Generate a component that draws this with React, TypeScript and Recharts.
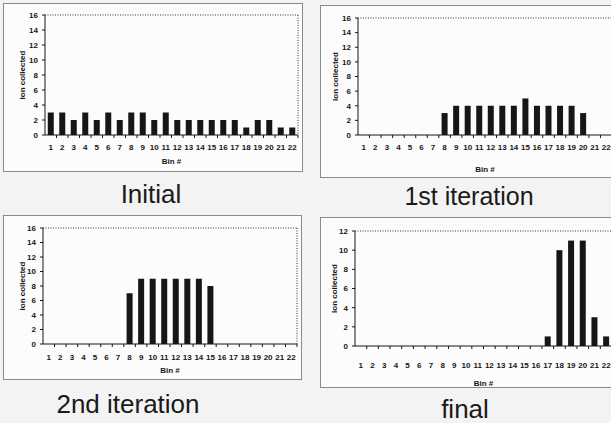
import React from 'react';
import { BarChart, Bar, XAxis, YAxis, CartesianGrid } from 'recharts';

const bins = ['1','2','3','4','5','6','7','8','9','10','11','12','13','14','15','16','17','18','19','20','21','22'];
const initialValues = [3,3,2,3,2,3,2,3,3,2,3,2,2,2,2,2,2,1,2,2,1,1];
const firstIterationValues = [0,0,0,0,0,0,0,3,4,4,4,4,4,4,5,4,4,4,4,3,0,0];
const secondIterationValues = [0,0,0,0,0,0,0,7,9,9,9,9,9,9,8,0,0,0,0,0,0,0];
const finalValues = [0,0,0,0,0,0,0,0,0,0,0,0,0,0,0,0,1,10,11,11,3,1];
const ticks16 = [0,2,4,6,8,10,12,14,16];
const ticks12 = [0,2,4,6,8,10,12];
const titles = ['Initial', '1st iteration', '2nd iteration', 'final'];

const makeRows = (vals: number[]) => bins.map((b, i) => ({ bin: b, v: vals[i] }));

const FONT = 'Arial, "Liberation Sans", Helvetica, sans-serif';
const INK = '#161616';

const XTick = (props: any) => {
  const { x, y, payload, labelDy } = props;
  const off = payload.offset || 0;
  return (
    <g>
      <line x1={x + off} x2={x + off} y1={y} y2={y + 3} stroke={INK} strokeWidth={1} />
      <text x={x} y={y + labelDy + 3} textAnchor="middle" fontFamily={FONT} fontSize={8} fontWeight="bold" fill={INK}>
        {payload.value}
      </text>
    </g>
  );
};

type PanelProps = {
  box: { left: number; top: number; width: number; height: number };
  vals: number[];
  yMax: number;
  yTicks: number[];
  yAxisW: number;
  mTop: number;
  mRight: number;
  xAxisH: number;
  labelDy: number;
  binOffset: number;
  yLabelX: number;
};

const Panel = (p: PanelProps) => {
  const rows = makeRows(p.vals);
  return (
    <div style={{ position: 'absolute', left: p.box.left, top: p.box.top, width: p.box.width, height: p.box.height, border: '1px solid #8a8a8a', background: '#fcfcfc', boxSizing: 'border-box' }}>
      <BarChart width={p.box.width - 2} height={p.box.height - 2} data={rows} margin={{ top: p.mTop, right: p.mRight, left: 0, bottom: 0 }} barCategoryGap="24%">
        <CartesianGrid stroke="#333" strokeDasharray="1 1.5"
          horizontalCoordinatesGenerator={({ offset }: any) => [offset.top]}
          verticalCoordinatesGenerator={({ offset }: any) => [offset.left + offset.width]} />
        <XAxis dataKey="bin" interval={0} tickSize={0} tickMargin={0} tickLine={false} height={p.xAxisH}
          axisLine={{ stroke: INK, strokeWidth: 1 }}
          tick={<XTick labelDy={p.labelDy} />}
          label={{ value: 'Bin #', position: 'insideBottom', offset: p.binOffset, style: { fontFamily: FONT, fontSize: 8, fontWeight: 'bold', fill: INK } }} />
        <YAxis domain={[0, p.yMax]} ticks={p.yTicks} interval={0} width={p.yAxisW} tickSize={3} tickMargin={4}
          axisLine={{ stroke: INK, strokeWidth: 1 }} tickLine={{ stroke: INK }}
          tick={{ fontFamily: FONT, fontSize: 8, fontWeight: 'bold', fill: INK }}
          label={{ value: 'Ion collected', angle: -90, position: 'insideLeft', offset: p.yLabelX, style: { textAnchor: 'middle', fontFamily: FONT, fontSize: 8, fontWeight: 'bold', fill: INK } }} />
        <Bar dataKey="v" fill={INK} isAnimationActive={false} />
      </BarChart>
    </div>
  );
};

const titleStyle = (cx: number, baseline: number): React.CSSProperties => ({
  position: 'absolute', left: cx - 120, width: 240, top: baseline - 22, textAlign: 'center',
  fontFamily: FONT, fontSize: 26, lineHeight: '26px', color: '#1a1a1a', whiteSpace: 'nowrap',
});

export default function App() {
  return (
    <div style={{ position: 'absolute', left: 0, top: 0, width: 611, height: 423, overflow: 'hidden', background: '#f3f3f3' }}>
      <Panel box={{ left: 3, top: 3, width: 300, height: 169 }} vals={initialValues} yMax={16} yTicks={ticks16}
        yAxisW={41} mTop={11} mRight={4} xAxisH={36} labelDy={12} binOffset={7} yLabelX={18} />
      <Panel box={{ left: 320, top: 5, width: 297, height: 173 }} vals={firstIterationValues} yMax={16} yTicks={ticks16}
        yAxisW={37} mTop={12} mRight={4} xAxisH={42} labelDy={12} binOffset={5} yLabelX={14} />
      <Panel box={{ left: 3, top: 215, width: 299, height: 165 }} vals={secondIterationValues} yMax={16} yTicks={ticks16}
        yAxisW={39} mTop={12} mRight={4} xAxisH={35} labelDy={13} binOffset={6} yLabelX={18} />
      <Panel box={{ left: 320, top: 217, width: 297, height: 171 }} vals={finalValues} yMax={12} yTicks={ticks12}
        yAxisW={34} mTop={13} mRight={4} xAxisH={41} labelDy={19} binOffset={1} yLabelX={13} />
      <div style={titleStyle(151, 203)}>{titles[0]}</div>
      <div style={{ ...titleStyle(469, 205), fontSize: 25 }}>{titles[1]}</div>
      <div style={titleStyle(128, 413)}>{titles[2]}</div>
      <div style={titleStyle(465, 418)}>{titles[3]}</div>
    </div>
  );
}
